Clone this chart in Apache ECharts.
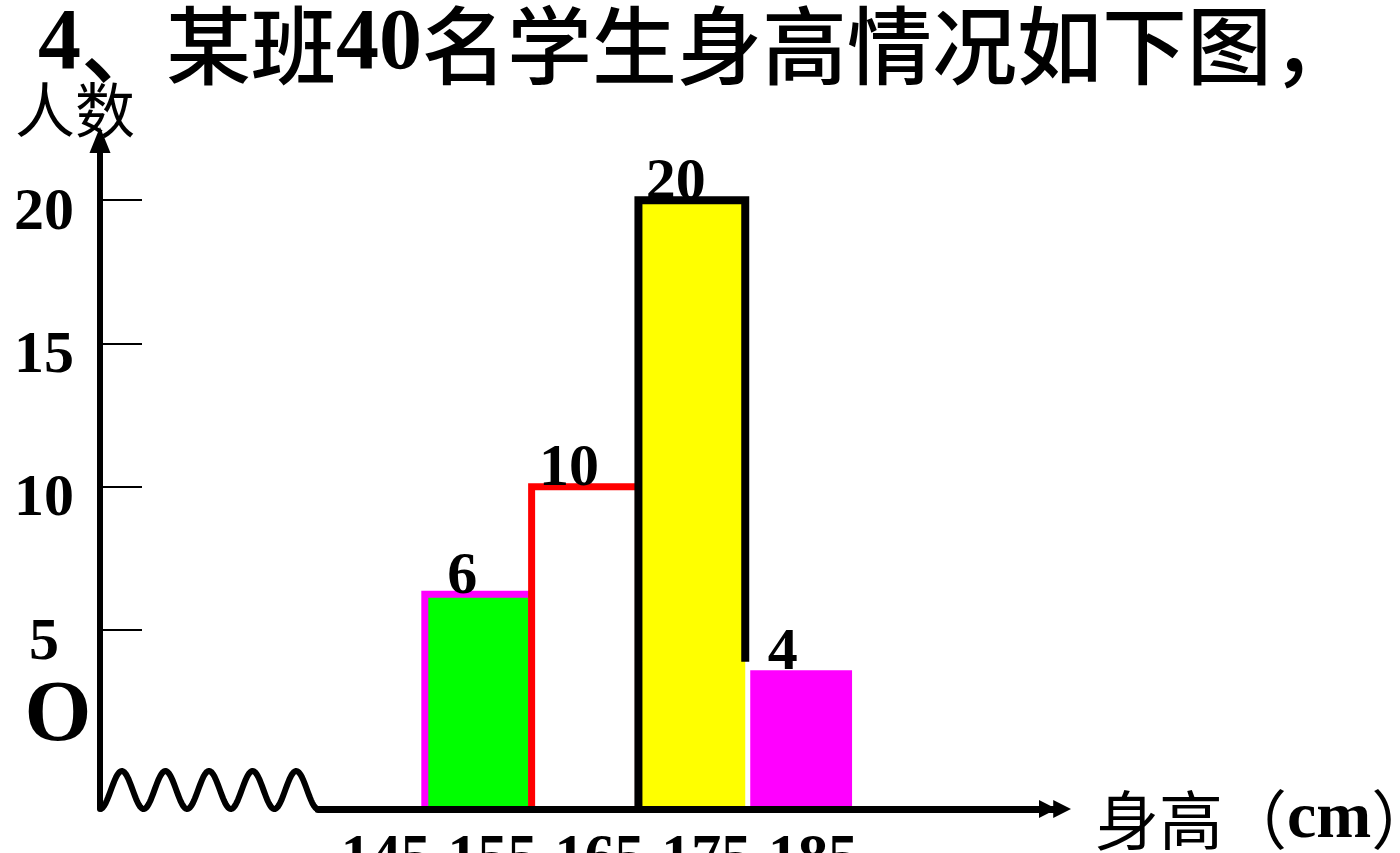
<!DOCTYPE html>
<html><head><meta charset="utf-8">
<script src="https://cdn.jsdelivr.net/npm/echarts@6/dist/echarts.min.js"></script>
<style>html,body{margin:0;padding:0;background:#fff}#c{width:1400px;height:853px}</style>
</head><body><div id="c"></div>
<script>
const titleNum = '4';
const titleMark = '、';
const titleA = '某班';
const titleNum2 = '40';
const titleB = '名学生身高情况如下图，';
const yName = '人数';
const originLabel = 'O';
const xNameMain = '身高（';
const xNameUnit = 'cm';
const xNameEnd = '）';
const binStarts = [145, 155, 165, 175];
const binEnds = [155, 165, 175, 185];
const counts = [6, 10, 20, 4];            // numbers printed above the bars
const barTops = [6.25, 10, 20, 3.6];      // bar heights as drawn in the picture
const xTickLabels = [145, 155, 165, 175, 185];
const yTickLabels = [5, 10, 15, 20];

const barFill = ['#00ff00', '#ffffff', '#ffff00', '#ff00ff'];
const barStroke = ['#ff00ff', '#ff0000', '#000000', null];
const barStrokeW = [7, 7, 8, 0];

const X_MIN = 135, X_MAX = 204, Y_MIN = -1.24, Y_MAX = 22.1;
const YELLOW_EDGE_END = 3.9;
const SERIF = '"Liberation Serif","Times New Roman",serif';
const CJK = '"Noto Sans CJK SC","Liberation Serif",sans-serif';

const barData = binStarts.map((s, i) => [s, binEnds[i], barTops[i], counts[i]]);

const chart = echarts.init(document.getElementById('c'), null, {renderer: 'canvas'});

function renderBar(params, api) {
  const i = params.dataIndex;
  const x0 = api.value(0), x1 = api.value(1), top = api.value(2);
  const pTL = api.coord([x0, top]);
  const pBR = api.coord([x1, Y_MIN]);
  const xl = pTL[0], yt = pTL[1], xr = pBR[0], yb = pBR[1];
  const inset = i === 3 ? 5 : 0;
  const children = [{
    type: 'rect',
    shape: {x: xl + inset, y: yt, width: xr - xl - inset, height: yb - yt},
    style: {fill: barFill[i]}
  }];
  if (barStroke[i]) {
    const rightEnd = i === 2 ? api.coord([x1, YELLOW_EDGE_END])[1] : yb;
    children.push({
      type: 'polyline',
      shape: {points: [[xl, yb], [xl, yt], [xr, yt], [xr, rightEnd]]},
      style: {stroke: barStroke[i], lineWidth: barStrokeW[i], fill: null, lineJoin: 'miter', lineCap: 'butt'}
    });
  }
  children.push({
    type: 'text',
    style: {
      text: String(api.value(3)),
      x: (xl + xr) / 2 - 16,
      y: yt + 13,
      align: 'center',
      verticalAlign: 'bottom',
      font: 'bold 60px ' + SERIF,
      fill: '#000'
    }
  });
  return {type: 'group', children};
}

const option = {
  backgroundColor: '#ffffff',
  animation: false,
  grid: {left: 318, right: 345, top: 140, bottom: 44, containLabel: false, outerBoundsMode: 'none'},
  xAxis: {
    type: 'value', min: X_MIN, max: X_MAX, z: 10,
    axisLine: {show: true, onZero: false, lineStyle: {color: '#000', width: 7},
      symbol: ['none', 'path://M5 0L10 10L6 10L10 18L0 18L4 10L0 10Z'], symbolSize: [22, 32]},
    axisTick: {show: false},
    splitLine: {show: false},
    axisLabel: {
      customValues: xTickLabels, margin: 20, color: '#000', fontSize: 60, fontWeight: 'bold',
      fontFamily: SERIF, padding: [0, 78, 0, 0]
    },
    name: xNameMain + '{u|' + xNameUnit + '}' + xNameEnd,
    nameLocation: 'end', nameGap: 40,
    nameTextStyle: {
      color: '#000', fontSize: 64, fontFamily: CJK, padding: [22, 0, 0, 0],
      rich: {u: {fontSize: 66, fontWeight: 'bold', fontFamily: SERIF, color: '#000'}}
    }
  },
  yAxis: {
    type: 'value', min: Y_MIN, max: Y_MAX, offset: 218, position: 'left', z: 10,
    axisLine: {show: true, onZero: false, lineStyle: {color: '#000', width: 6},
      symbol: ['none', 'triangle'], symbolSize: [21, 26]},
    axisTick: {show: true, inside: true, length: 42, customValues: yTickLabels,
      lineStyle: {color: '#000', width: 2}},
    splitLine: {show: false},
    axisLabel: {
      customValues: yTickLabels, margin: 56, align: 'center', verticalAlign: 'top', lineHeight: 26,
      color: '#000', fontSize: 60, fontWeight: 'bold', fontFamily: SERIF
    },
    name: yName, nameLocation: 'end', nameGap: 0,
    nameTextStyle: {color: '#000', fontSize: 60, fontFamily: CJK, padding: [0, 50, 0, 0]}
  },
  series: [{
    type: 'custom',
    renderItem: renderBar,
    data: barData,
    encode: {x: [0, 1], y: 2},
    z: 2,
    clip: false
  }]
};
chart.setOption(option);

// decorations: broken-axis wave, origin mark, title
const origin = chart.convertToPixel({xAxisIndex: 0, yAxisIndex: 0}, [X_MIN, Y_MIN]);
const yAxisX = origin[0] - option.yAxis.offset;
const span = origin[0] - yAxisX;
const halfPeriod = span / 10;
const amp = 38;
const wave = [];
for (let t = 0; t <= span + 0.01; t += 1) {
  wave.push([yAxisX + t, origin[1] - amp * (1 - Math.cos(Math.PI * t / halfPeriod)) / 2]);
}
chart.setOption({
  graphic: [
    {type: 'polyline', shape: {points: wave, smooth: 0},
      style: {stroke: '#000', lineWidth: 6, fill: null, lineJoin: 'round'}, z: 20},
    {type: 'text', style: {text: originLabel, x: 58, y: 718, align: 'center', verticalAlign: 'middle',
      font: 'bold 86px ' + SERIF, fill: '#000'}, z: 20},
    {type: 'text', style: {
      text: '{n|' + titleNum + '}{c|' + titleMark + titleA + '}{n|' + titleNum2 + '}{c|' + titleB + '}',
      x: 38, y: 46, align: 'left', verticalAlign: 'middle',
      rich: {
        n: {fontSize: 86, fontWeight: 'bold', fontFamily: SERIF, fill: '#000'},
        c: {fontSize: 85, fontWeight: 500, fontFamily: CJK, fill: '#000'}
      }}, z: 20}
  ]
});
</script>
</body></html>
